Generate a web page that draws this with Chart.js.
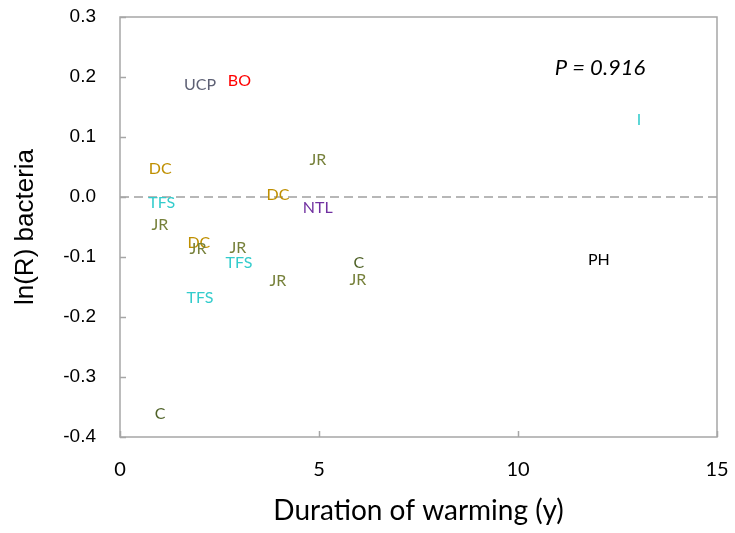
<!DOCTYPE html>
<html>
<head>
<meta charset="utf-8">
<script src="https://cdn.jsdelivr.net/npm/chart.js@4"></script>
<style>
  html, body { margin: 0; padding: 0; background: #ffffff; }
  #wrap { width: 735px; height: 533px; }
</style>
</head>
<body>
<div id="wrap"><canvas id="c" width="735" height="533"></canvas></div>
<script>
// ---- data ----
const studies   = ['UCP','BO','DC','TFS','JR','DC','JR','JR','TFS','JR','TFS','DC','JR','NTL','C','JR','PH','I','C'];
const durations = [2.01, 3.0, 1.01, 1.05, 1.0, 1.98, 1.96, 2.96, 2.99, 3.97, 2.01, 3.97, 4.97, 4.97, 6.0, 5.98, 12.03, 13.04, 1.01];
const lnR       = [0.187, 0.193, 0.047, -0.009, -0.047, -0.077, -0.087, -0.085, -0.110, -0.140, -0.168, 0.003, 0.062, -0.018, -0.110, -0.138, -0.105, 0.128, -0.362];
const zeroLineX = [0, 15];
const zeroLineY = [0, 0];
const xTicks = [0, 5, 10, 15];
const yTicks = [-0.4, -0.3, -0.2, -0.1, 0.0, 0.1, 0.2, 0.3];
const pText = 'P = 0.916';
const pPos = { x: 12.06, y: 0.215 };

// ---- styles ----
const studyColors = {
  UCP: '#5d6074', BO: '#ff0000', DC: '#bf8f00', TFS: '#33cccc', JR: '#76803a',
  NTL: '#7030a0', C: '#4f6228', PH: '#000000', I: '#33cccc'
};
const axisColor = '#a6a6a6';

const points = durations.map((x, i) => ({ x: x, y: lnR[i] }));
const zeroLine = zeroLineX.map((x, i) => ({ x: x, y: zeroLineY[i] }));

const labelPlugin = {
  id: 'labels',
  afterDatasetsDraw(chart) {
    const ctx = chart.ctx;
    const meta = chart.getDatasetMeta(1);
    ctx.save();
    ctx.font = '16px Lato, "Open Sans", sans-serif';
    ctx.textAlign = 'center';
    ctx.textBaseline = 'middle';
    meta.data.forEach((el, i) => {
      ctx.fillStyle = studyColors[studies[i]] || '#000';
      ctx.fillText(studies[i], el.x, el.y);
    });
    // P annotation
    const xs = chart.scales.x, ys = chart.scales.y;
    ctx.font = 'italic 22px Lato, "Open Sans", sans-serif';
    ctx.fillStyle = '#000';
    ctx.fillText(pText, xs.getPixelForValue(pPos.x), ys.getPixelForValue(pPos.y));
    ctx.restore();
  },
  afterDraw(chart) {
    const ctx = chart.ctx;
    const a = chart.chartArea;
    const xs = chart.scales.x, ys = chart.scales.y;
    ctx.save();
    ctx.strokeStyle = axisColor;
    ctx.lineWidth = 1.5;
    ctx.strokeRect(a.left, a.top, a.right - a.left, a.bottom - a.top);
    ctx.beginPath();
    yTicks.forEach(v => {
      const y = Math.round(ys.getPixelForValue(v)) + 0.5;
      ctx.moveTo(a.left, y); ctx.lineTo(a.left + 6, y);
    });
    xTicks.forEach(v => {
      const x = Math.round(xs.getPixelForValue(v)) + 0.5;
      ctx.moveTo(x, a.bottom); ctx.lineTo(x, a.bottom - 6);
    });
    ctx.stroke();
    ctx.restore();
  }
};

new Chart(document.getElementById('c'), {
  type: 'scatter',
  data: {
    datasets: [
      {
        type: 'line',
        data: zeroLine,
        borderColor: '#a0a0a0',
        borderWidth: 1.5,
        borderDash: [9, 5],
        pointRadius: 0,
        fill: false
      },
      {
        data: points,
        pointRadius: 0,
        pointHoverRadius: 0,
        backgroundColor: 'rgba(0,0,0,0)',
        borderColor: 'rgba(0,0,0,0)'
      }
    ]
  },
  options: {
    responsive: false,
    animation: false,
    events: [],
    layout: { padding: { left: 0, right: 18, top: 17, bottom: 0 } },
    plugins: { legend: { display: false }, tooltip: { enabled: false } },
    scales: {
      x: {
        type: 'linear',
        min: 0, max: 15,
        afterBuildTicks: s => { s.ticks = xTicks.map(v => ({ value: v })); },
        afterFit: s => { s.height = 96; },
        grid: { display: true, drawOnChartArea: false, drawTicks: true, tickLength: 21, color: 'rgba(0,0,0,0)' },
        border: { display: false },
        ticks: {
          padding: 0,
          color: '#000',
          font: { family: 'Lato, "Open Sans", sans-serif', size: 20 },
          maxRotation: 0,
          callback: v => String(v)
        },
        title: {
          display: true,
          text: 'Duration of warming (y)',
          color: '#000',
          font: { family: 'Lato, "Open Sans", sans-serif', size: 28 },
          padding: { top: 0, bottom: 5 }
        }
      },
      y: {
        type: 'linear',
        min: -0.4, max: 0.3,
        afterBuildTicks: s => { s.ticks = yTicks.map(v => ({ value: v })); },
        afterFit: s => { s.width = 120; },
        grid: { display: true, drawOnChartArea: false, drawTicks: true, tickLength: 24, color: 'rgba(0,0,0,0)' },
        border: { display: false },
        ticks: {
          padding: 0,
          color: '#000',
          font: { family: '"Liberation Sans", Arial, sans-serif', size: 19 },
          callback: v => v.toFixed(1)
        },
        title: {
          display: true,
          text: 'ln(R) bacteria',
          color: '#000',
          font: { family: '"Liberation Sans", Arial, sans-serif', size: 26 },
          padding: { top: 10, bottom: 0 }
        }
      }
    }
  },
  plugins: [labelPlugin]
});
</script>
</body>
</html>
